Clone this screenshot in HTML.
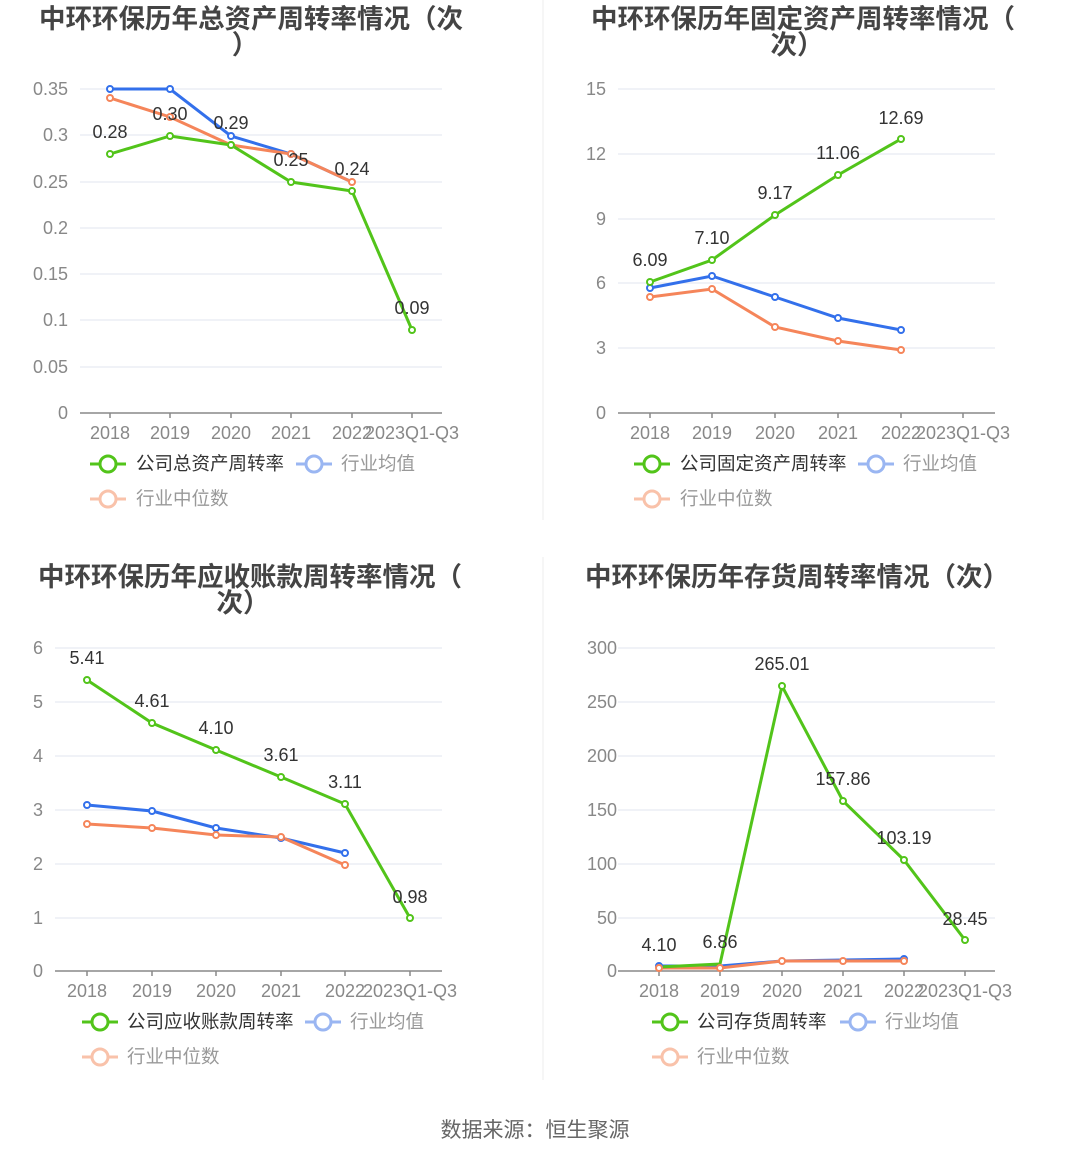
<!DOCTYPE html>
<html><head><meta charset="utf-8"><style>
html,body{margin:0;padding:0;background:#fff;}
svg{display:block;font-family:"Liberation Sans","Noto Sans CJK SC",sans-serif;}
.t{font-size:26.5px;font-weight:bold;fill:#444;text-anchor:middle;}
.yl{font-size:18px;fill:#888;text-anchor:end;}
.xl{font-size:18px;fill:#888;text-anchor:middle;}
.g{stroke:#e6e9f2;stroke-width:1.2;}
.ax{stroke:#888;stroke-width:1.5;}
.dl{font-size:18px;fill:#333;text-anchor:middle;}
.lg{font-size:18.5px;}
.G{stroke:#52c41a;fill:none;stroke-width:3;}
.B{stroke:#3370eb;fill:none;stroke-width:3;}
.O{stroke:#f5855a;fill:none;stroke-width:3;}
.Gc{stroke:#52c41a;fill:#fff;stroke-width:2;}
.Bc{stroke:#3370eb;fill:#fff;stroke-width:2;}
.Oc{stroke:#f5855a;fill:#fff;stroke-width:2;}
</style></head><body>
<svg width="1071" height="1158" viewBox="0 0 1071 1158">
<line x1="543" y1="0" x2="543" y2="520" stroke="#eee"/>
<line x1="543" y1="557" x2="543" y2="1080" stroke="#eee"/>

<!-- Chart 1 -->
<text class="t" x="251" y="28">中环环保历年总资产周转率情况（次</text>
<text class="t" x="245" y="54">）</text>
<g>
<line class="g" x1="80" y1="89" x2="442" y2="89"/><line class="g" x1="80" y1="135" x2="442" y2="135"/><line class="g" x1="80" y1="182" x2="442" y2="182"/><line class="g" x1="80" y1="228" x2="442" y2="228"/><line class="g" x1="80" y1="274" x2="442" y2="274"/><line class="g" x1="80" y1="320" x2="442" y2="320"/><line class="g" x1="80" y1="367" x2="442" y2="367"/>
<line class="ax" x1="80" y1="413" x2="442" y2="413"/>
<text class="yl" x="68" y="95">0.35</text><text class="yl" x="68" y="141">0.3</text><text class="yl" x="68" y="188">0.25</text><text class="yl" x="68" y="234">0.2</text><text class="yl" x="68" y="280">0.15</text><text class="yl" x="68" y="326">0.1</text><text class="yl" x="68" y="373">0.05</text><text class="yl" x="68" y="419">0</text>
<g class="ax"><line x1="110" y1="413" x2="110" y2="418"/><line x1="170" y1="413" x2="170" y2="418"/><line x1="231" y1="413" x2="231" y2="418"/><line x1="291" y1="413" x2="291" y2="418"/><line x1="352" y1="413" x2="352" y2="418"/><line x1="412" y1="413" x2="412" y2="418"/></g>
<text class="xl" x="110" y="439">2018</text><text class="xl" x="170" y="439">2019</text><text class="xl" x="231" y="439">2020</text><text class="xl" x="291" y="439">2021</text><text class="xl" x="352" y="439">2022</text><text class="xl" x="412" y="439">2023Q1-Q3</text>
<polyline class="B" points="110,89 170,89 231,136 291,154 352,182"/>
<polyline class="O" points="110,98 170,117 231,145 291,154 352,182"/>
<polyline class="G" points="110,154 170,136 231,145 291,182 352,191 412,330"/>
<g class="Bc"><circle cx="110" cy="89" r="3"/><circle cx="170" cy="89" r="3"/><circle cx="231" cy="136" r="3"/><circle cx="291" cy="154" r="3"/></g>
<g class="Oc"><circle cx="110" cy="98" r="3"/><circle cx="170" cy="117" r="3"/><circle cx="231" cy="145" r="3"/><circle cx="291" cy="154" r="3"/><circle cx="352" cy="182" r="3"/></g>
<g class="Gc"><circle cx="110" cy="154" r="3"/><circle cx="170" cy="136" r="3"/><circle cx="231" cy="145" r="3"/><circle cx="291" cy="182" r="3"/><circle cx="352" cy="191" r="3"/><circle cx="412" cy="330" r="3"/></g>
<text class="dl" x="110" y="138">0.28</text><text class="dl" x="170" y="120">0.30</text><text class="dl" x="231" y="129">0.29</text><text class="dl" x="291" y="166">0.25</text><text class="dl" x="352" y="175">0.24</text><text class="dl" x="412" y="314">0.09</text>
<line x1="90" y1="464" x2="126" y2="464" stroke="#52c41a" stroke-width="3"/><circle cx="108" cy="464" r="8" fill="#fff" stroke="#52c41a" stroke-width="3"/><text class="lg" x="136" y="470" fill="#333">公司总资产周转率</text>
<line x1="296" y1="464" x2="332" y2="464" stroke="#9ab6f2" stroke-width="3"/><circle cx="314" cy="464" r="8" fill="#fff" stroke="#9ab6f2" stroke-width="3"/><text class="lg" x="341" y="470" fill="#999">行业均值</text>
<line x1="90" y1="499" x2="126" y2="499" stroke="#f9c2aa" stroke-width="3"/><circle cx="108" cy="499" r="8" fill="#fff" stroke="#f9c2aa" stroke-width="3"/><text class="lg" x="136" y="505" fill="#999">行业中位数</text>
</g>

<!-- Chart 2 -->
<text class="t" x="803" y="28">中环环保历年固定资产周转率情况（</text>
<text class="t" x="797" y="54">次）</text>
<g>
<line class="g" x1="618" y1="89" x2="995" y2="89"/><line class="g" x1="618" y1="154" x2="995" y2="154"/><line class="g" x1="618" y1="219" x2="995" y2="219"/><line class="g" x1="618" y1="283" x2="995" y2="283"/><line class="g" x1="618" y1="348" x2="995" y2="348"/>
<line class="ax" x1="618" y1="413" x2="995" y2="413"/>
<text class="yl" x="606" y="95">15</text><text class="yl" x="606" y="160">12</text><text class="yl" x="606" y="225">9</text><text class="yl" x="606" y="289">6</text><text class="yl" x="606" y="354">3</text><text class="yl" x="606" y="419">0</text>
<g class="ax"><line x1="650" y1="413" x2="650" y2="418"/><line x1="712" y1="413" x2="712" y2="418"/><line x1="775" y1="413" x2="775" y2="418"/><line x1="838" y1="413" x2="838" y2="418"/><line x1="901" y1="413" x2="901" y2="418"/><line x1="963" y1="413" x2="963" y2="418"/></g>
<text class="xl" x="650" y="439">2018</text><text class="xl" x="712" y="439">2019</text><text class="xl" x="775" y="439">2020</text><text class="xl" x="838" y="439">2021</text><text class="xl" x="901" y="439">2022</text><text class="xl" x="963" y="439">2023Q1-Q3</text>
<polyline class="B" points="650,288 712,276 775,297 838,318 901,330"/>
<polyline class="O" points="650,297 712,289 775,327 838,341 901,350"/>
<polyline class="G" points="650,282 712,260 775,215 838,175 901,139"/>
<g class="Bc"><circle cx="650" cy="288" r="3"/><circle cx="712" cy="276" r="3"/><circle cx="775" cy="297" r="3"/><circle cx="838" cy="318" r="3"/><circle cx="901" cy="330" r="3"/></g>
<g class="Oc"><circle cx="650" cy="297" r="3"/><circle cx="712" cy="289" r="3"/><circle cx="775" cy="327" r="3"/><circle cx="838" cy="341" r="3"/><circle cx="901" cy="350" r="3"/></g>
<g class="Gc"><circle cx="650" cy="282" r="3"/><circle cx="712" cy="260" r="3"/><circle cx="775" cy="215" r="3"/><circle cx="838" cy="175" r="3"/><circle cx="901" cy="139" r="3"/></g>
<text class="dl" x="650" y="266">6.09</text><text class="dl" x="712" y="244">7.10</text><text class="dl" x="775" y="199">9.17</text><text class="dl" x="838" y="159">11.06</text><text class="dl" x="901" y="124">12.69</text>
<line x1="634" y1="464" x2="670" y2="464" stroke="#52c41a" stroke-width="3"/><circle cx="652" cy="464" r="8" fill="#fff" stroke="#52c41a" stroke-width="3"/><text class="lg" x="680" y="470" fill="#333">公司固定资产周转率</text>
<line x1="858" y1="464" x2="894" y2="464" stroke="#9ab6f2" stroke-width="3"/><circle cx="876" cy="464" r="8" fill="#fff" stroke="#9ab6f2" stroke-width="3"/><text class="lg" x="903" y="470" fill="#999">行业均值</text>
<line x1="634" y1="499" x2="670" y2="499" stroke="#f9c2aa" stroke-width="3"/><circle cx="652" cy="499" r="8" fill="#fff" stroke="#f9c2aa" stroke-width="3"/><text class="lg" x="680" y="505" fill="#999">行业中位数</text>
</g>

<!-- Chart 3 -->
<text class="t" x="250" y="586">中环环保历年应收账款周转率情况（</text>
<text class="t" x="243" y="612">次）</text>
<g>
<line class="g" x1="55" y1="648" x2="442" y2="648"/><line class="g" x1="55" y1="702" x2="442" y2="702"/><line class="g" x1="55" y1="756" x2="442" y2="756"/><line class="g" x1="55" y1="810" x2="442" y2="810"/><line class="g" x1="55" y1="864" x2="442" y2="864"/><line class="g" x1="55" y1="918" x2="442" y2="918"/>
<line class="ax" x1="55" y1="971" x2="442" y2="971"/>
<text class="yl" x="43" y="654">6</text><text class="yl" x="43" y="708">5</text><text class="yl" x="43" y="762">4</text><text class="yl" x="43" y="816">3</text><text class="yl" x="43" y="870">2</text><text class="yl" x="43" y="924">1</text><text class="yl" x="43" y="977">0</text>
<g class="ax"><line x1="87" y1="971" x2="87" y2="976"/><line x1="152" y1="971" x2="152" y2="976"/><line x1="216" y1="971" x2="216" y2="976"/><line x1="281" y1="971" x2="281" y2="976"/><line x1="345" y1="971" x2="345" y2="976"/><line x1="410" y1="971" x2="410" y2="976"/></g>
<text class="xl" x="87" y="997">2018</text><text class="xl" x="152" y="997">2019</text><text class="xl" x="216" y="997">2020</text><text class="xl" x="281" y="997">2021</text><text class="xl" x="345" y="997">2022</text><text class="xl" x="410" y="997">2023Q1-Q3</text>
<polyline class="B" points="87,805 152,811 216,828 281,838 345,853"/>
<polyline class="O" points="87,824 152,828 216,835 281,837 345,865"/>
<polyline class="G" points="87,680 152,723 216,750 281,777 345,804 410,918"/>
<g class="Bc"><circle cx="87" cy="805" r="3"/><circle cx="152" cy="811" r="3"/><circle cx="216" cy="828" r="3"/><circle cx="281" cy="838" r="3"/><circle cx="345" cy="853" r="3"/></g>
<g class="Oc"><circle cx="87" cy="824" r="3"/><circle cx="152" cy="828" r="3"/><circle cx="216" cy="835" r="3"/><circle cx="281" cy="837" r="3"/><circle cx="345" cy="865" r="3"/></g>
<g class="Gc"><circle cx="87" cy="680" r="3"/><circle cx="152" cy="723" r="3"/><circle cx="216" cy="750" r="3"/><circle cx="281" cy="777" r="3"/><circle cx="345" cy="804" r="3"/><circle cx="410" cy="918" r="3"/></g>
<text class="dl" x="87" y="664">5.41</text><text class="dl" x="152" y="707">4.61</text><text class="dl" x="216" y="734">4.10</text><text class="dl" x="281" y="761">3.61</text><text class="dl" x="345" y="788">3.11</text><text class="dl" x="410" y="903">0.98</text>
<line x1="82" y1="1022" x2="118" y2="1022" stroke="#52c41a" stroke-width="3"/><circle cx="100" cy="1022" r="8" fill="#fff" stroke="#52c41a" stroke-width="3"/><text class="lg" x="127" y="1028" fill="#333">公司应收账款周转率</text>
<line x1="305" y1="1022" x2="341" y2="1022" stroke="#9ab6f2" stroke-width="3"/><circle cx="323" cy="1022" r="8" fill="#fff" stroke="#9ab6f2" stroke-width="3"/><text class="lg" x="350" y="1028" fill="#999">行业均值</text>
<line x1="82" y1="1057" x2="118" y2="1057" stroke="#f9c2aa" stroke-width="3"/><circle cx="100" cy="1057" r="8" fill="#fff" stroke="#f9c2aa" stroke-width="3"/><text class="lg" x="127" y="1063" fill="#999">行业中位数</text>
</g>

<!-- Chart 4 -->
<text class="t" x="797" y="586">中环环保历年存货周转率情况（次）</text>
<g>
<line class="g" x1="618" y1="648" x2="995" y2="648"/><line class="g" x1="618" y1="702" x2="995" y2="702"/><line class="g" x1="618" y1="756" x2="995" y2="756"/><line class="g" x1="618" y1="810" x2="995" y2="810"/><line class="g" x1="618" y1="864" x2="995" y2="864"/><line class="g" x1="618" y1="918" x2="995" y2="918"/>
<line class="ax" x1="618" y1="971" x2="995" y2="971"/>
<text class="yl" x="617" y="654">300</text><text class="yl" x="617" y="708">250</text><text class="yl" x="617" y="762">200</text><text class="yl" x="617" y="816">150</text><text class="yl" x="617" y="870">100</text><text class="yl" x="617" y="924">50</text><text class="yl" x="617" y="977">0</text>
<g class="ax"><line x1="659" y1="971" x2="659" y2="976"/><line x1="720" y1="971" x2="720" y2="976"/><line x1="782" y1="971" x2="782" y2="976"/><line x1="843" y1="971" x2="843" y2="976"/><line x1="904" y1="971" x2="904" y2="976"/><line x1="965" y1="971" x2="965" y2="976"/></g>
<text class="xl" x="659" y="997">2018</text><text class="xl" x="720" y="997">2019</text><text class="xl" x="782" y="997">2020</text><text class="xl" x="843" y="997">2021</text><text class="xl" x="904" y="997">2022</text><text class="xl" x="965" y="997">2023Q1-Q3</text>
<polyline class="B" points="659,966 720,966 782,961 843,960 904,959"/>
<polyline class="O" points="659,968 720,968 782,961 843,961 904,961"/>
<polyline class="G" points="659,967 720,964 782,686 843,801 904,860 965,940"/>
<g class="Bc"><circle cx="659" cy="966" r="3"/><circle cx="904" cy="959" r="3"/></g>
<g class="Oc"><circle cx="659" cy="968" r="3"/><circle cx="720" cy="968" r="3"/><circle cx="782" cy="961" r="3"/><circle cx="843" cy="961" r="3"/><circle cx="904" cy="961" r="3"/></g>
<g class="Gc"><circle cx="782" cy="686" r="3"/><circle cx="843" cy="801" r="3"/><circle cx="904" cy="860" r="3"/><circle cx="965" cy="940" r="3"/></g>
<text class="dl" x="659" y="951">4.10</text><text class="dl" x="720" y="948">6.86</text><text class="dl" x="782" y="670">265.01</text><text class="dl" x="843" y="785">157.86</text><text class="dl" x="904" y="844">103.19</text><text class="dl" x="965" y="925">28.45</text>
<line x1="652" y1="1022" x2="688" y2="1022" stroke="#52c41a" stroke-width="3"/><circle cx="670" cy="1022" r="8" fill="#fff" stroke="#52c41a" stroke-width="3"/><text class="lg" x="697" y="1028" fill="#333">公司存货周转率</text>
<line x1="840" y1="1022" x2="876" y2="1022" stroke="#9ab6f2" stroke-width="3"/><circle cx="858" cy="1022" r="8" fill="#fff" stroke="#9ab6f2" stroke-width="3"/><text class="lg" x="885" y="1028" fill="#999">行业均值</text>
<line x1="652" y1="1057" x2="688" y2="1057" stroke="#f9c2aa" stroke-width="3"/><circle cx="670" cy="1057" r="8" fill="#fff" stroke="#f9c2aa" stroke-width="3"/><text class="lg" x="697" y="1063" fill="#999">行业中位数</text>
</g>

<text x="535" y="1137" font-size="21" fill="#666" text-anchor="middle">数据来源：恒生聚源</text>
</svg>
</body></html>
